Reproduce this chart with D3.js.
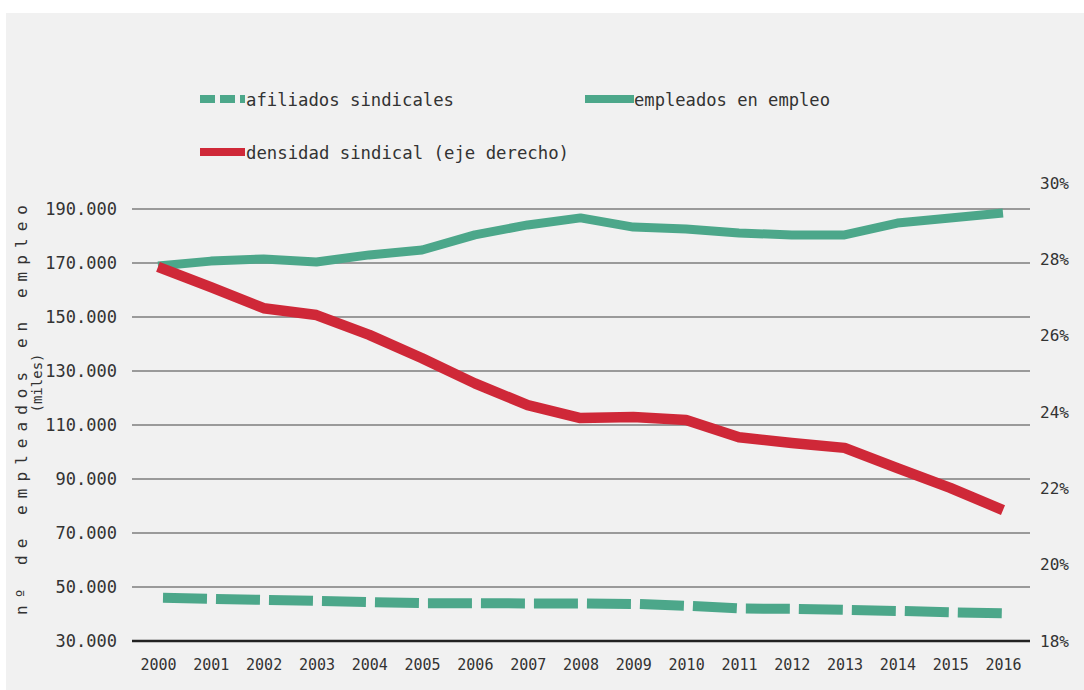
<!DOCTYPE html>
<html lang="es">
  <head>
    <meta charset="utf-8">
    <title>Afiliación sindical</title>
    <script src="https://cdn.jsdelivr.net/npm/d3@7"></script>
    <style>
      body { margin: 0; background: #fff; }
      text { font-family: 'DejaVu Sans Mono', 'Liberation Mono', monospace; fill: #333; }
    </style>
  </head>
  <body>
    <svg width="1084" height="690" id="mainsvg"></svg>
    <script>
      // datos
      const years = ['2000', '2001', '2002', '2003', '2004', '2005', '2006', '2007', '2008',
        '2009', '2010', '2011', '2012', '2013', '2014', '2015', '2016'];
      const afiliados = [46000, 45600, 45200, 44800, 44400, 44000, 44000, 43900, 43900,
        43700, 43000, 42000, 41900, 41500, 41100, 40600, 40200];
      const empleados = [168900, 170700, 171500, 170400, 173000, 174800, 180400, 184100, 186700,
        183300, 182600, 181100, 180400, 180400, 184800, 186700, 188500];
      const densidad = [27.8, 27.27, 26.72, 26.54, 26.02, 25.41, 24.75, 24.18, 23.84,
        23.87, 23.79, 23.34, 23.19, 23.06, 22.53, 22.01, 21.43];
      const leftTicks = [30000, 50000, 70000, 90000, 110000, 130000, 150000, 170000, 190000];
      const rightTicks = [18, 20, 22, 24, 26, 28, 30];

      const svg = d3.select('#mainsvg');
      const green = '#4ca78a';
      const red = '#cf2838';

      // fondo gris
      svg.append('rect').attr('x', 6).attr('y', 13).attr('width', 1078).attr('height', 677)
        .attr('fill', '#f1f1f1');

      // escalas
      const xScale = d3.scalePoint().domain(years).range([158, 1003]);
      const yLeft = d3.scaleLinear().domain([30000, 190000]).range([641, 209]);
      const yRight = d3.scaleLinear().domain([18, 30]).range([641, 183]);

      // formato español: 190.000
      const es = d3.formatLocale({ decimal: ',', thousands: '.', grouping: [3], currency: ['', '€'] });

      // rejilla
      svg.append('g').selectAll('line').data(leftTicks.slice(1)).join('line')
        .attr('x1', 132).attr('x2', 1030)
        .attr('y1', d => yLeft(d)).attr('y2', d => yLeft(d))
        .attr('stroke', '#9a9a9a').attr('stroke-width', 2);

      // eje izquierdo
      const yAxisL = d3.axisLeft(yLeft).tickValues(leftTicks)
        .tickFormat(es.format(',')).tickSize(0).tickPadding(15);
      const gL = svg.append('g').attr('transform', 'translate(132,0)').call(yAxisL);
      gL.select('.domain').remove();
      gL.selectAll('.tick text')
        .attr('font-size', 17).attr('font-family', "'DejaVu Sans Mono', monospace").attr('fill', '#2a2a2a');

      // eje derecho
      const yAxisR = d3.axisRight(yRight).tickValues(rightTicks)
        .tickFormat(d => d + '%').tickSize(0).tickPadding(10);
      const gR = svg.append('g').attr('transform', 'translate(1030,0)').call(yAxisR);
      gR.select('.domain').remove();
      gR.selectAll('.tick text').attr('font-size', 16).attr('fill', '#2a2a2a')
        .attr('font-family', "'DejaVu Sans Mono', monospace");

      // eje x
      svg.append('line').attr('x1', 132).attr('x2', 1030).attr('y1', 641).attr('y2', 641)
        .attr('stroke', '#222').attr('stroke-width', 2.5);
      const xAxis = d3.axisBottom(xScale).tickSize(0).tickPadding(18);
      const gX = svg.append('g').attr('transform', 'translate(0,641)').call(xAxis);
      gX.select('.domain').remove();
      gX.selectAll('.tick text').attr('font-size', 15).attr('fill', '#2a2a2a')
        .attr('font-family', "'DejaVu Sans Mono', monospace");

      // líneas
      const lineL = d3.line().x((d, i) => xScale(years[i])).y(d => yLeft(d));
      const lineR = d3.line().x((d, i) => xScale(years[i])).y(d => yRight(d));

      svg.append('path').attr('d', lineL(empleados)).attr('fill', 'none')
        .attr('stroke', green).attr('stroke-width', 9).attr('stroke-linejoin', 'round');
      svg.append('path').attr('d', lineL(afiliados)).attr('fill', 'none')
        .attr('stroke', green).attr('stroke-width', 10).attr('stroke-dasharray', '44 9')
        .attr('transform', 'translate(5,0)');
      svg.append('path').attr('d', lineR(densidad)).attr('fill', 'none')
        .attr('stroke', red).attr('stroke-width', 10.5).attr('stroke-linejoin', 'round');

      // leyenda
      const legend = svg.append('g');
      legend.append('line').attr('x1', 200).attr('x2', 245).attr('y1', 99).attr('y2', 99)
        .attr('stroke', green).attr('stroke-width', 8).attr('stroke-dasharray', '15 5');
      legend.append('text').text('afiliados sindicales').attr('x', 246).attr('y', 106)
        .attr('font-size', 18).attr('textLength', 208).attr('lengthAdjust', 'spacingAndGlyphs');
      legend.append('line').attr('x1', 585).attr('x2', 634).attr('y1', 99).attr('y2', 99)
        .attr('stroke', green).attr('stroke-width', 8);
      legend.append('text').text('empleados en empleo').attr('x', 634).attr('y', 106)
        .attr('font-size', 18).attr('textLength', 196).attr('lengthAdjust', 'spacingAndGlyphs');
      legend.append('line').attr('x1', 200).attr('x2', 245).attr('y1', 152).attr('y2', 152)
        .attr('stroke', red).attr('stroke-width', 8);
      legend.append('text').text('densidad sindical (eje derecho)').attr('x', 246).attr('y', 159)
        .attr('font-size', 18).attr('textLength', 323).attr('lengthAdjust', 'spacingAndGlyphs');

      // título del eje
      svg.append('text').text('nº de empleados en empleo')
        .attr('transform', 'translate(27,410) rotate(-90)')
        .attr('text-anchor', 'middle').attr('font-size', 16).attr('fill', '#555')
        .attr('textLength', 410).attr('lengthAdjust', 'spacing');
      svg.append('text').text('(miles)')
        .attr('transform', 'translate(42,383) rotate(-90)')
        .attr('text-anchor', 'middle').attr('font-size', 14).attr('fill', '#555');
    </script>
  </body>
</html>
